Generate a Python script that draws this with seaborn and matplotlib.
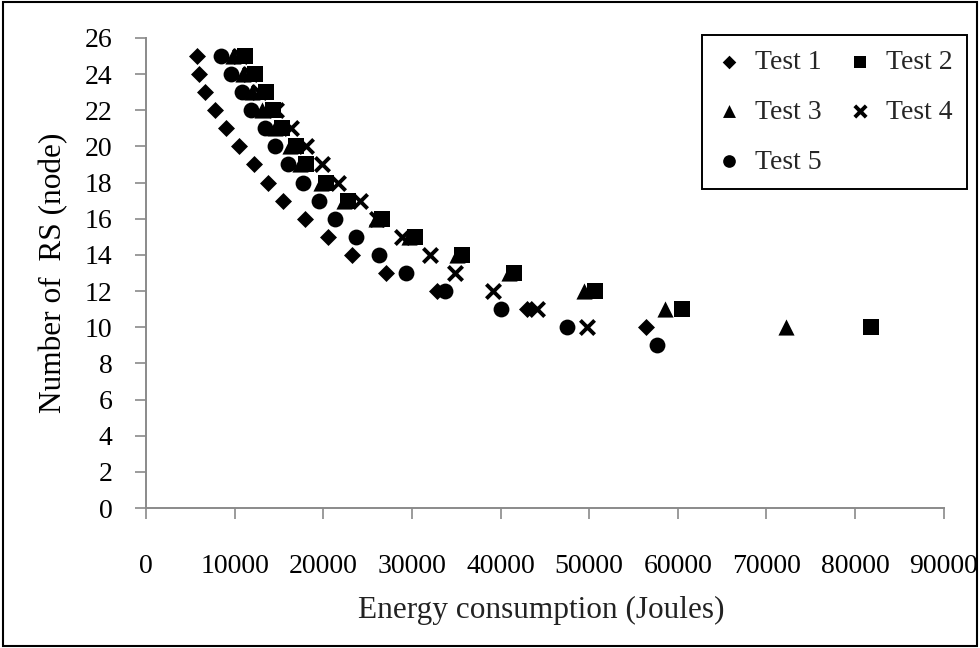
import matplotlib
matplotlib.use("Agg")
import matplotlib.pyplot as plt
from matplotlib.patches import Rectangle
import seaborn as sns
import pandas as pd

# Energy consumption (Joules) against number of relay stations, five test runs
test1_nodes = [25, 24, 23, 22, 21, 20, 19, 18, 17, 16, 15, 14, 13, 12, 11, 10]
test1_energy = [5700, 6000, 6700, 7800, 9000, 10500, 12200, 13800, 15500,
                17900, 20500, 23200, 27100, 32800, 43000, 56400]

test2_nodes = [25, 24, 23, 22, 21, 20, 19, 18, 17, 16, 15, 14, 13, 12, 11, 10]
test2_energy = [11200, 12300, 13500, 14300, 15300, 16900, 18100, 20300, 22800,
                26600, 30300, 35700, 41500, 50700, 60500, 81800]

test3_nodes = [25, 24, 23, 22, 21, 20, 19, 18, 17, 16, 15, 14, 13, 12, 11, 10]
test3_energy = [9800, 10900, 12000, 13100, 14500, 16200, 17400, 19700, 22300,
                25900, 29700, 35100, 41000, 49400, 58500, 72200]

test4_nodes = [25, 24, 23, 22, 21, 20, 19, 18, 17, 16, 15, 14, 13, 12, 11, 10]
test4_energy = [10600, 11700, 12800, 14700, 16400, 18100, 19800, 21700, 24100,
                26100, 28900, 32000, 34900, 39100, 44100, 49800]

test5_nodes = [25, 24, 23, 22, 21, 20, 19, 18, 17, 16, 15, 14, 13, 12, 11, 10, 9]
test5_energy = [8500, 9600, 10800, 11900, 13400, 14600, 16000, 17700, 19500,
                21300, 23700, 26300, 29300, 33700, 40100, 47500, 57700]

series_names = ["Test 1", "Test 2", "Test 3", "Test 4", "Test 5"]
x_ticks = list(range(0, 90001, 10000))
y_ticks = list(range(0, 27, 2))

sns.set_style("ticks")
plt.rcParams["font.family"] = ["Liberation Serif", "DejaVu Serif"]

fig = plt.figure(figsize=(9.8, 6.48), dpi=100)
ax = fig.add_axes([0.149, 0.216, 0.814, 0.7255])

series = [
    (test1_energy, test1_nodes, "D", 75, None),
    (test2_energy, test2_nodes, "s", 120, None),
    (test3_energy, test3_nodes, "^", 135, None),
    (test4_energy, test4_nodes, "x", 105, 2.8),
    (test5_energy, test5_nodes, "o", 130, None),
]

for name, (energy, nodes, marker, size, lw) in zip(series_names, series):
    df = pd.DataFrame({"energy": energy, "nodes": nodes})
    sns.scatterplot(data=df, x="energy", y="nodes", ax=ax, marker=marker,
                    s=size, color="black", label=name, zorder=3,
                    linewidth=(lw if lw is not None else 0))

ax.set_xlim(0, 90000)
ax.set_ylim(0, 26)
ax.set_xticks(x_ticks)
ax.set_yticks(y_ticks)
ax.set_xticklabels([str(v) for v in x_ticks])
ax.set_yticklabels([str(v) for v in y_ticks])

for side in ("top", "right"):
    ax.spines[side].set_visible(False)
for side in ("left", "bottom"):
    ax.spines[side].set_color("#8a8a8a")
    ax.spines[side].set_linewidth(1.4)

ax.tick_params(axis="x", direction="out", length=8, width=1.2, color="#8a8a8a",
               pad=25, labelsize=20, labelcolor="black")
ax.tick_params(axis="y", direction="out", length=8, width=1.2, color="#8a8a8a",
               pad=16, labelsize=20, labelcolor="black")

ax.set_xlabel("Energy consumption (Joules)", fontsize=22.5, color="#222222")
ax.set_ylabel("Number of  RS (node)", fontsize=22.5, color="black")
ax.xaxis.set_label_coords(0.495, -0.188)
ax.yaxis.set_label_coords(-0.098, 0.5)

# legend laid out as rows: Test 1 / Test 2, Test 3 / Test 4, Test 5
h, l = ax.get_legend_handles_labels()
lookup = dict(zip(l, h))
order = ["Test 1", "Test 3", "Test 5", "Test 2", "Test 4"]
leg = ax.legend([lookup[k] for k in order], order, ncol=2, loc="upper right",
                bbox_to_anchor=(967 / 980, 1 - 35 / 648),
                bbox_transform=fig.transFigure, borderaxespad=0,
                fontsize=20, frameon=True, fancybox=False, edgecolor="black",
                framealpha=1, markerscale=0.8, handlelength=0.9,
                handletextpad=0.5, columnspacing=0.9, labelspacing=0.88,
                borderpad=0.52)
leg.get_frame().set_linewidth(1.4)

# outer frame around the whole figure
fig.patches.append(Rectangle((0.003, 0.003), 0.994, 0.994, transform=fig.transFigure,
                             fill=False, edgecolor="black", linewidth=1.5))

fig.savefig("out.png", dpi=100, facecolor="white")
